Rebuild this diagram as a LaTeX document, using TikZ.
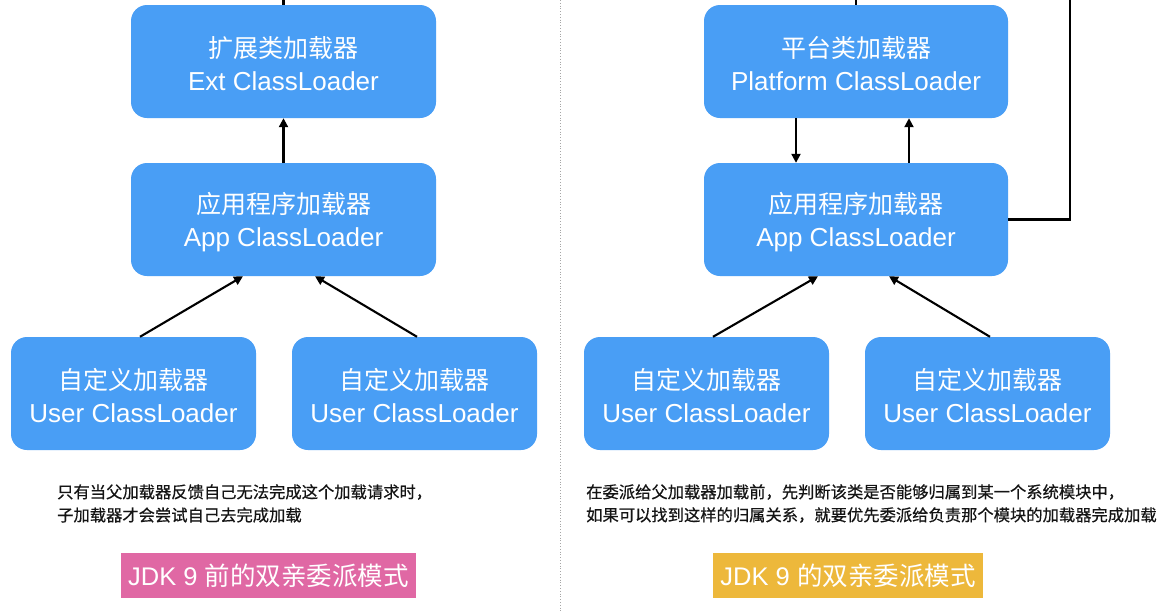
\documentclass[tikz,border=0pt]{standalone}
\usepackage{fontspec}
\setmainfont{Liberation Sans}
\newfontfamily\cjk{Noto Sans CJK SC}
\newfontfamily\cjkheavy[FakeBold=0.5]{Noto Sans CJK SC}
\usetikzlibrary{arrows.meta}
\definecolor{boxblue}{RGB}{73,158,245}
\definecolor{tagpink}{RGB}{224,104,164}
\definecolor{tagyellow}{RGB}{237,184,59}
\definecolor{notetext}{RGB}{20,20,20}
\newcommand\loadertext[2]{{\cjk #1}\rule{0pt}{26pt}\\{\fontsize{26}{33}\selectfont #2}}
\begin{document}
\begin{tikzpicture}[x=1pt,y=-1pt,
  loader/.style={fill=boxblue, rounded corners=16pt, minimum height=113pt,
    text=white, align=center, inner sep=0pt, font=\fontsize{25}{33}\selectfont},
  wide/.style={loader, minimum width=305pt},
  narrow/.style={loader, minimum width=245pt},
  arr/.style={line width=2.1pt, black, -{Triangle[length=9pt,width=9pt]}},
  plain/.style={line width=2.1pt, black},
  note/.style={anchor=west, inner sep=0pt, text=notetext, align=left,
    font=\cjkheavy\fontsize{16.3}{23}\selectfont},
  tag/.style={minimum height=45pt, inner sep=0pt, text=white,
    font=\fontsize{25.5}{30}\selectfont},
  sep/.style={gray!70, line width=0.8pt, dotted}]
\useasboundingbox (0,0) rectangle (1161,611);
\fill[white] (0,0) rectangle (1161,611);

% separator
\coordinate (sepTop) at (560,0);
\coordinate (sepBot) at (560,611);
\draw[sep] (sepTop) -- (sepBot);

% ---------- left ----------
\node[wide] (ext) at (283.5,61.5) {\loadertext{扩展类加载器}{Ext ClassLoader}};
\node[wide] (app) at (283.5,219.5) {\loadertext{应用程序加载器}{App ClassLoader}};
\node[narrow] (u1) at (133.5,393.5) {\loadertext{自定义加载器}{User ClassLoader}};
\node[narrow] (u2) at (414.5,393.5) {\loadertext{自定义加载器}{User ClassLoader}};

\coordinate (extTop) at (283.5,0);
\draw[plain] (ext.north) -- (extTop);
\draw[arr] (app.north) -- (ext.south);
\draw[arr] ([xshift=6.5pt]u1.north) -- ([xshift=-40.5pt]app.south);
\draw[arr] ([xshift=2.5pt]u2.north) -- ([xshift=31.5pt]app.south);

\node[note] (n1) at (57,492) {只有当父加载器反馈自己无法完成这个加载请求时，};
\node[note] (n2) at (57,515) {子加载器才会尝试自己去完成加载};

\node[tag, fill=tagpink, minimum width=295pt] (t1) at (268.5,575.5) {JDK 9 {\cjk 前的双亲委派模式}};

% ---------- right ----------
\node[wide, minimum width=304pt] (plat) at (856,61.5) {\loadertext{平台类加载器}{Platform ClassLoader}};
\node[wide, minimum width=304pt] (app2) at (856,219.5) {\loadertext{应用程序加载器}{App ClassLoader}};
\node[narrow] (u3) at (706.5,393.5) {\loadertext{自定义加载器}{User ClassLoader}};
\node[narrow] (u4) at (987.5,393.5) {\loadertext{自定义加载器}{User ClassLoader}};

\coordinate (platTop) at (856,0);
\coordinate (rightTop) at (1070,0);
\draw[plain] (plat.north) -- (platTop);
\draw[arr] ([xshift=-60pt]plat.south) -- ([xshift=-60pt]app2.north);
\draw[arr] ([xshift=53pt]app2.north) -- ([xshift=53pt]plat.south);
\draw[plain] (app2.east) -| (rightTop);
\draw[arr] ([xshift=6.5pt]u3.north) -- ([xshift=-38pt]app2.south);
\draw[arr] ([xshift=2.5pt]u4.north) -- ([xshift=33pt]app2.south);

\node[note] (n3) at (586,492) {在委派给父加载器加载前，先判断该类是否能够归属到某一个系统模块中，};
\node[note] (n4) at (586,515) {如果可以找到这样的归属关系，就要优先委派给负责那个模块的加载器完成加载};

\node[tag, fill=tagyellow, minimum width=270pt] (t2) at (848,575.5) {JDK 9 {\cjk 的双亲委派模式}};
\end{tikzpicture}
\end{document}
